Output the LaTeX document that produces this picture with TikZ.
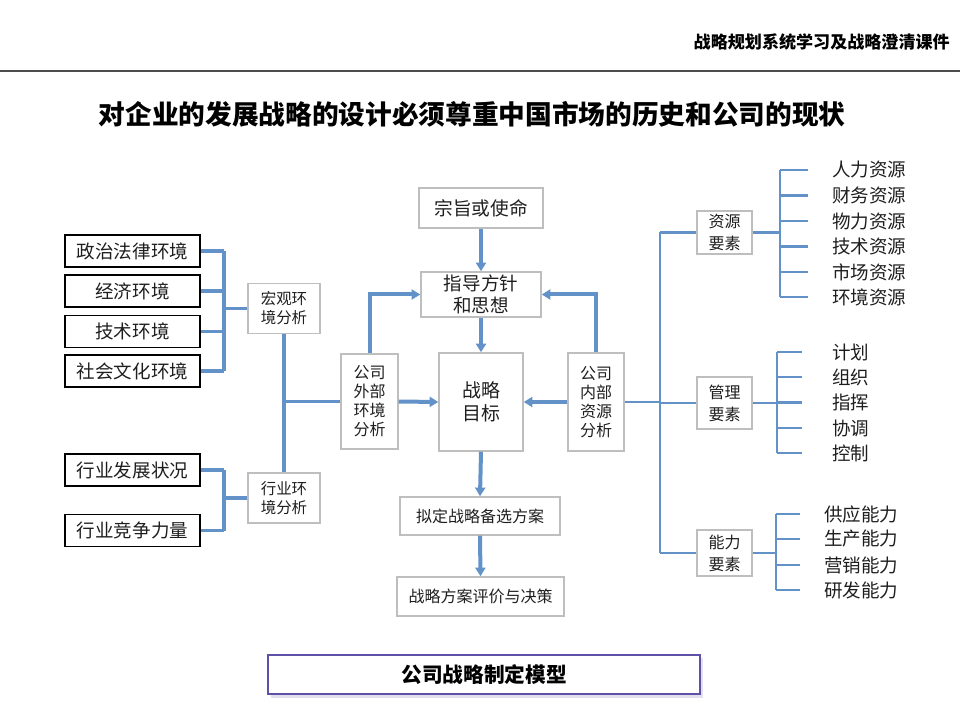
\documentclass[tikz,border=0pt]{standalone}
\usepackage{fontspec}
\setmainfont{Noto Sans CJK SC}
\usetikzlibrary{arrows.meta}
\definecolor{lnblue}{RGB}{98,146,200}
\definecolor{boxgray}{RGB}{190,190,190}
\definecolor{capborder}{RGB}{96,80,168}
\definecolor{capshadow}{RGB}{225,225,238}
\definecolor{txt}{RGB}{30,30,30}
\newcommand{\fs}[2]{\fontsize{#1}{#2}\selectfont}
\begin{document}
\begin{tikzpicture}[x=0.75pt,y=-0.75pt,
  lbox/.style={draw=black,line width=0.9pt,inner sep=0pt,text=txt,font=\fs{13.9pt}{16pt}},
  gbox/.style={draw=boxgray,line width=1.1pt,inner sep=0pt,align=center,text=txt},
  conn/.style={draw=lnblue,line width=2.3pt},
  rconn/.style={draw=lnblue,line width=2pt},
  arr/.style={draw=lnblue,line width=3pt,-{Triangle[width=7.5pt,length=6.5pt]}},
  rtext/.style={anchor=west,inner sep=0pt,text=txt,font=\fs{13.9pt}{16pt}}
]
\useasboundingbox (0,0) rectangle (960,720);
% header
\node[anchor=east,inner sep=0pt,font=\bfseries\fs{12.8pt}{14pt}] (hdr) at (950,42) {战略规划系统学习及战略澄清课件};
\draw[draw=black!70,line width=1.5pt] (0,71) -- (960,71);
\node[inner sep=0pt,font=\bfseries\fs{20pt}{24pt}] (title) at (472,114) {对企业的发展战略的设计必须尊重中国市场的历史和公司的现状};

% left boxes
\foreach \n/\y/\t in {zz/251/政治法律环境, jj/291/经济环境, js/331.5/技术环境, sh/371/社会文化环境, fz/470/行业发展状况, jz/530.5/行业竞争力量}
  \node[lbox,minimum width=101.25pt,minimum height=24pt] (\n) at (132.5,\y) {\t};

\node[gbox,minimum width=54pt,minimum height=37.5pt,font=\fs{11.6pt}{14.25pt}] (hg) at (284,308.5) {宏观环\\境分析};
\node[gbox,minimum width=54pt,minimum height=37.5pt,font=\fs{11.6pt}{14.25pt}] (hy) at (284,498) {行业环\\境分析};

% center
\node[gbox,minimum width=93pt,minimum height=30pt,font=\fs{14pt}{16pt}] (zong) at (481,208) {宗旨或使命};
\node[gbox,minimum width=90pt,minimum height=33.75pt,font=\fs{13.9pt}{16.5pt}] (zhi) at (481,294.5) {指导方针\\和思想};
\node[gbox,minimum width=63pt,minimum height=73.5pt,font=\fs{14.2pt}{17pt}] (mb) at (481,402) {战略\\目标};
\node[gbox,minimum width=42.75pt,minimum height=71.25pt,font=\fs{12pt}{14.25pt}] (wai) at (369.5,401.5) {公司\\外部\\环境\\分析};
\node[gbox,minimum width=42pt,minimum height=73.5pt,font=\fs{12pt}{14.25pt}] (nei) at (596,402) {公司\\内部\\资源\\分析};
\node[gbox,minimum width=120pt,minimum height=28.5pt,font=\fs{12pt}{14pt}] (nd) at (480,516) {拟定战略备选方案};
\node[gbox,minimum width=125.25pt,minimum height=29.25pt,font=\fs{12pt}{14pt}] (pj) at (480.5,596.5) {战略方案评价与决策};

% right
\node[gbox,minimum width=41.25pt,minimum height=32.25pt,font=\fs{12pt}{16.5pt}] (zy) at (724.5,232.5) {资源\\要素};
\node[gbox,minimum width=41.25pt,minimum height=39pt,font=\fs{12pt}{16.5pt}] (gl) at (724.5,403) {管理\\要素};
\node[gbox,minimum width=41.25pt,minimum height=34.5pt,font=\fs{12pt}{16.5pt}] (nl) at (724.5,553) {能力\\要素};

\foreach \n/\y/\t in {r1/170/人力资源, r2/195.5/财务资源, r3/221/物力资源, r4/246.5/技术资源, r5/272/市场资源, r6/297/环境资源}
  \node[rtext] (\n) at (832,\y) {\t};
\foreach \n/\y/\t in {m1/352/计划, m2/377/组织, m3/402.5/指挥, m4/428/协调, m5/453/控制}
  \node[rtext] (\n) at (832,\y) {\t};
\foreach \n/\y/\t in {c1/514/供应能力, c2/539/生产能力, c3/565/营销能力, c4/590/研发能力}
  \node[rtext] (\n) at (824,\y) {\t};

% caption
\fill[capshadow] (271,658) rectangle (703,698);
\node[draw=capborder,fill=white,line width=1.1pt,minimum width=324pt,minimum height=29.25pt,inner sep=0pt,font=\bfseries\fs{15.5pt}{18pt}] (cap) at (484,674.5) {公司战略制定模型};

% left connectors
\coordinate (busL) at (224,0);
\foreach \n in {zz,jj,js,sh} \draw[conn] (\n.east) -- (\n.east -| busL);
\draw[conn] (busL |- zz.east) -- (busL |- sh.east);
\draw[conn] (busL |- hg.west) -- (hg.west);
\foreach \n in {fz,jz} \draw[conn] (\n.east) -- (\n.east -| busL);
\draw[conn] (busL |- fz.east) -- (busL |- jz.east);
\draw[conn] (busL |- hy.west) -- (hy.west);
\draw[conn] (hg.south) -- (hy.north);
\draw[conn] (hg.south |- wai.west) -- (wai.west);

% center arrows
\draw[arr] (zong.south) -- (zhi.north);
\draw[arr] (zhi.south) -- (mb.north);
\draw[arr] (wai.north) |- (zhi.west);
\draw[arr] (nei.north) |- (zhi.east);
\draw[arr] (wai.east) -- (mb.west);
\draw[arr] (nei.west) -- (mb.east);
\draw[arr] (mb.south) -- (nd.north);
\draw[arr] (nd.south) -- (pj.north);

% right connectors
\coordinate (busR) at (660,0);
\draw[rconn] (nei.east) -- (nei.east -| busR);
\draw[rconn] (busR |- zy.west) -- (busR |- nl.west);
\foreach \n in {zy,gl,nl} \draw[rconn] (busR |- \n.west) -- (\n.west);

\coordinate (bz) at (780,0);
\draw[rconn] (zy.east) -- (zy.east -| bz);
\draw[rconn] (bz |- r1.west) -- (bz |- r6.west);
\foreach \n in {r1,r2,r3,r4,r5,r6} \draw[rconn,shorten >=18pt] (bz |- \n.west) -- (\n.west);

\coordinate (bg) at (777,0);
\draw[rconn] (gl.east) -- (gl.east -| bg);
\draw[rconn] (bg |- m1.west) -- (bg |- m5.west);
\foreach \n in {m1,m2,m3,m4,m5} \draw[rconn,shorten >=22.5pt] (bg |- \n.west) -- (\n.west);

\coordinate (bn) at (776,0);
\draw[rconn] (nl.east) -- (nl.east -| bn);
\draw[rconn] (bn |- c1.west) -- (bn |- c4.west);
\foreach \n in {c1,c2,c3,c4} \draw[rconn,shorten >=18pt] (bn |- \n.west) -- (\n.west);
\end{tikzpicture}
\end{document}
